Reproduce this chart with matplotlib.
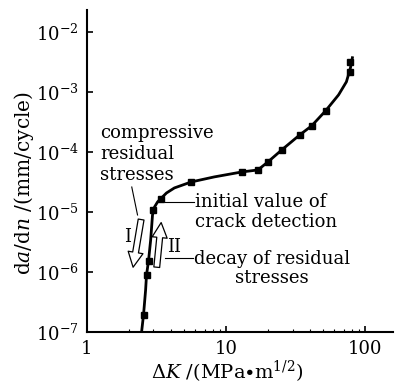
import numpy as np
import matplotlib
matplotlib.use('Agg')
import matplotlib.pyplot as plt
from matplotlib.patches import FancyArrowPatch
from matplotlib.ticker import LogLocator, NullLocator, FixedLocator, FixedFormatter

# curve (delta K in MPa*m^1/2, da/dn in mm/cycle)
curve_dk = [2.47, 2.55, 2.64, 2.68, 2.77, 2.87, 2.96, 3.06, 3.22, 3.38, 3.73, 4.25,
            5.62, 8.21, 13.0, 16.9, 19.95, 25.1, 33.8, 41.1, 51.8, 64.2, 73.1, 78.1, 80.7]
curve_rate = [1.0e-7, 1.92e-7, 5.0e-7, 8.9e-7, 1.53e-6, 3.4e-6, 8.9e-6, 1.21e-5, 1.47e-5,
              1.65e-5, 2.07e-5, 2.51e-5, 3.16e-5, 3.83e-5, 4.64e-5, 5.0e-5, 6.8e-5,
              1.08e-4, 1.92e-4, 2.71e-4, 4.83e-4, 8.9e-4, 1.47e-3, 2.5e-3, 3.7e-3]

# measured points (black markers)
point_dk = [2.55, 2.68, 2.77, 2.96, 3.38, 5.62, 13.0, 16.9, 19.95, 25.1, 33.8, 41.1, 51.8, 77.0, 78.1]
point_rate = [1.9e-7, 8.9e-7, 1.5e-6, 1.08e-5, 1.65e-5, 3.2e-5, 4.6e-5, 5.0e-5, 6.8e-5,
              1.08e-4, 1.9e-4, 2.7e-4, 4.8e-4, 2.15e-3, 3.2e-3]

x_ticks = [1, 10, 100]
x_tick_labels = ['1', '10', '100']

plt.rcParams['font.family'] = 'DejaVu Serif'
plt.rcParams['mathtext.fontset'] = 'dejavuserif'

fig = plt.figure(figsize=(3.95, 3.87), dpi=100)
ax = fig.add_axes([0.220, 0.142, 0.775, 0.832])

ax.plot(curve_dk, curve_rate, color='black', lw=2.0)
ax.plot(point_dk, point_rate, 's', color='black', ms=5)

ax.set_xscale('log')
ax.set_yscale('log')
ax.set_xlim(1, 158)
ax.set_ylim(1e-7, 2.3e-2)

ax.spines['top'].set_visible(False)
ax.spines['right'].set_visible(False)
ax.spines['left'].set_linewidth(1.5)
ax.spines['bottom'].set_linewidth(1.5)

ax.xaxis.set_major_locator(FixedLocator(x_ticks))
ax.xaxis.set_major_formatter(FixedFormatter(x_tick_labels))
ax.yaxis.set_major_locator(LogLocator(base=10, numticks=10))
ax.yaxis.set_minor_locator(NullLocator())
ax.tick_params(which='major', direction='in', length=4, width=1.2, labelsize=13, pad=6)
ax.tick_params(which='minor', direction='in', length=2, width=0.8)

ax.set_xlabel(r'$\Delta K$ /(MPa$\bullet$m$^{1/2}$)', fontsize=14)
ax.xaxis.set_label_coords(0.458, -0.085)
ax.set_ylabel(r'd$a$/d$n$ /(mm/cycle)', fontsize=14.5)
ax.yaxis.set_label_coords(-0.166, 0.463)

# hollow arrows I and II
arrow_style = 'simple,tail_width=0.35,head_width=0.9,head_length=0.9'
ax.add_patch(FancyArrowPatch((2.47, 8.3e-6), (2.13, 1.08e-6), arrowstyle=arrow_style,
                             mutation_scale=12, fc='white', ec='black', lw=0.9))
ax.add_patch(FancyArrowPatch((3.16, 1.08e-6), (3.43, 7.4e-6), arrowstyle=arrow_style,
                             mutation_scale=12, fc='white', ec='black', lw=0.9))
ax.text(1.96, 3.8e-6, 'I', fontsize=13, ha='center', va='center')
ax.text(4.25, 2.6e-6, 'II', fontsize=13, ha='center', va='center')

ax.text(1.24, 2.9e-4, 'compressive\nresidual\nstresses', fontsize=13, ha='left', va='top',
        linespacing=1.2)
ax.plot([2.10, 2.31], [2.6e-5, 8.9e-6], color='black', lw=0.8)

ax.text(6.0, 2.05e-5, 'initial value of\ncrack detection', fontsize=13, ha='left',
        va='top', linespacing=1.1)
ax.plot([3.61, 5.9], [1.47e-5, 1.47e-5], color='black', lw=0.8)

ax.text(5.9, 2.33e-6, 'decay of residual\nstresses', fontsize=13, ha='left', va='top',
        multialignment='center', linespacing=1.1)
ax.plot([3.61, 5.75], [1.7e-6, 1.7e-6], color='black', lw=0.8)

fig.savefig('out.png', dpi=100)
